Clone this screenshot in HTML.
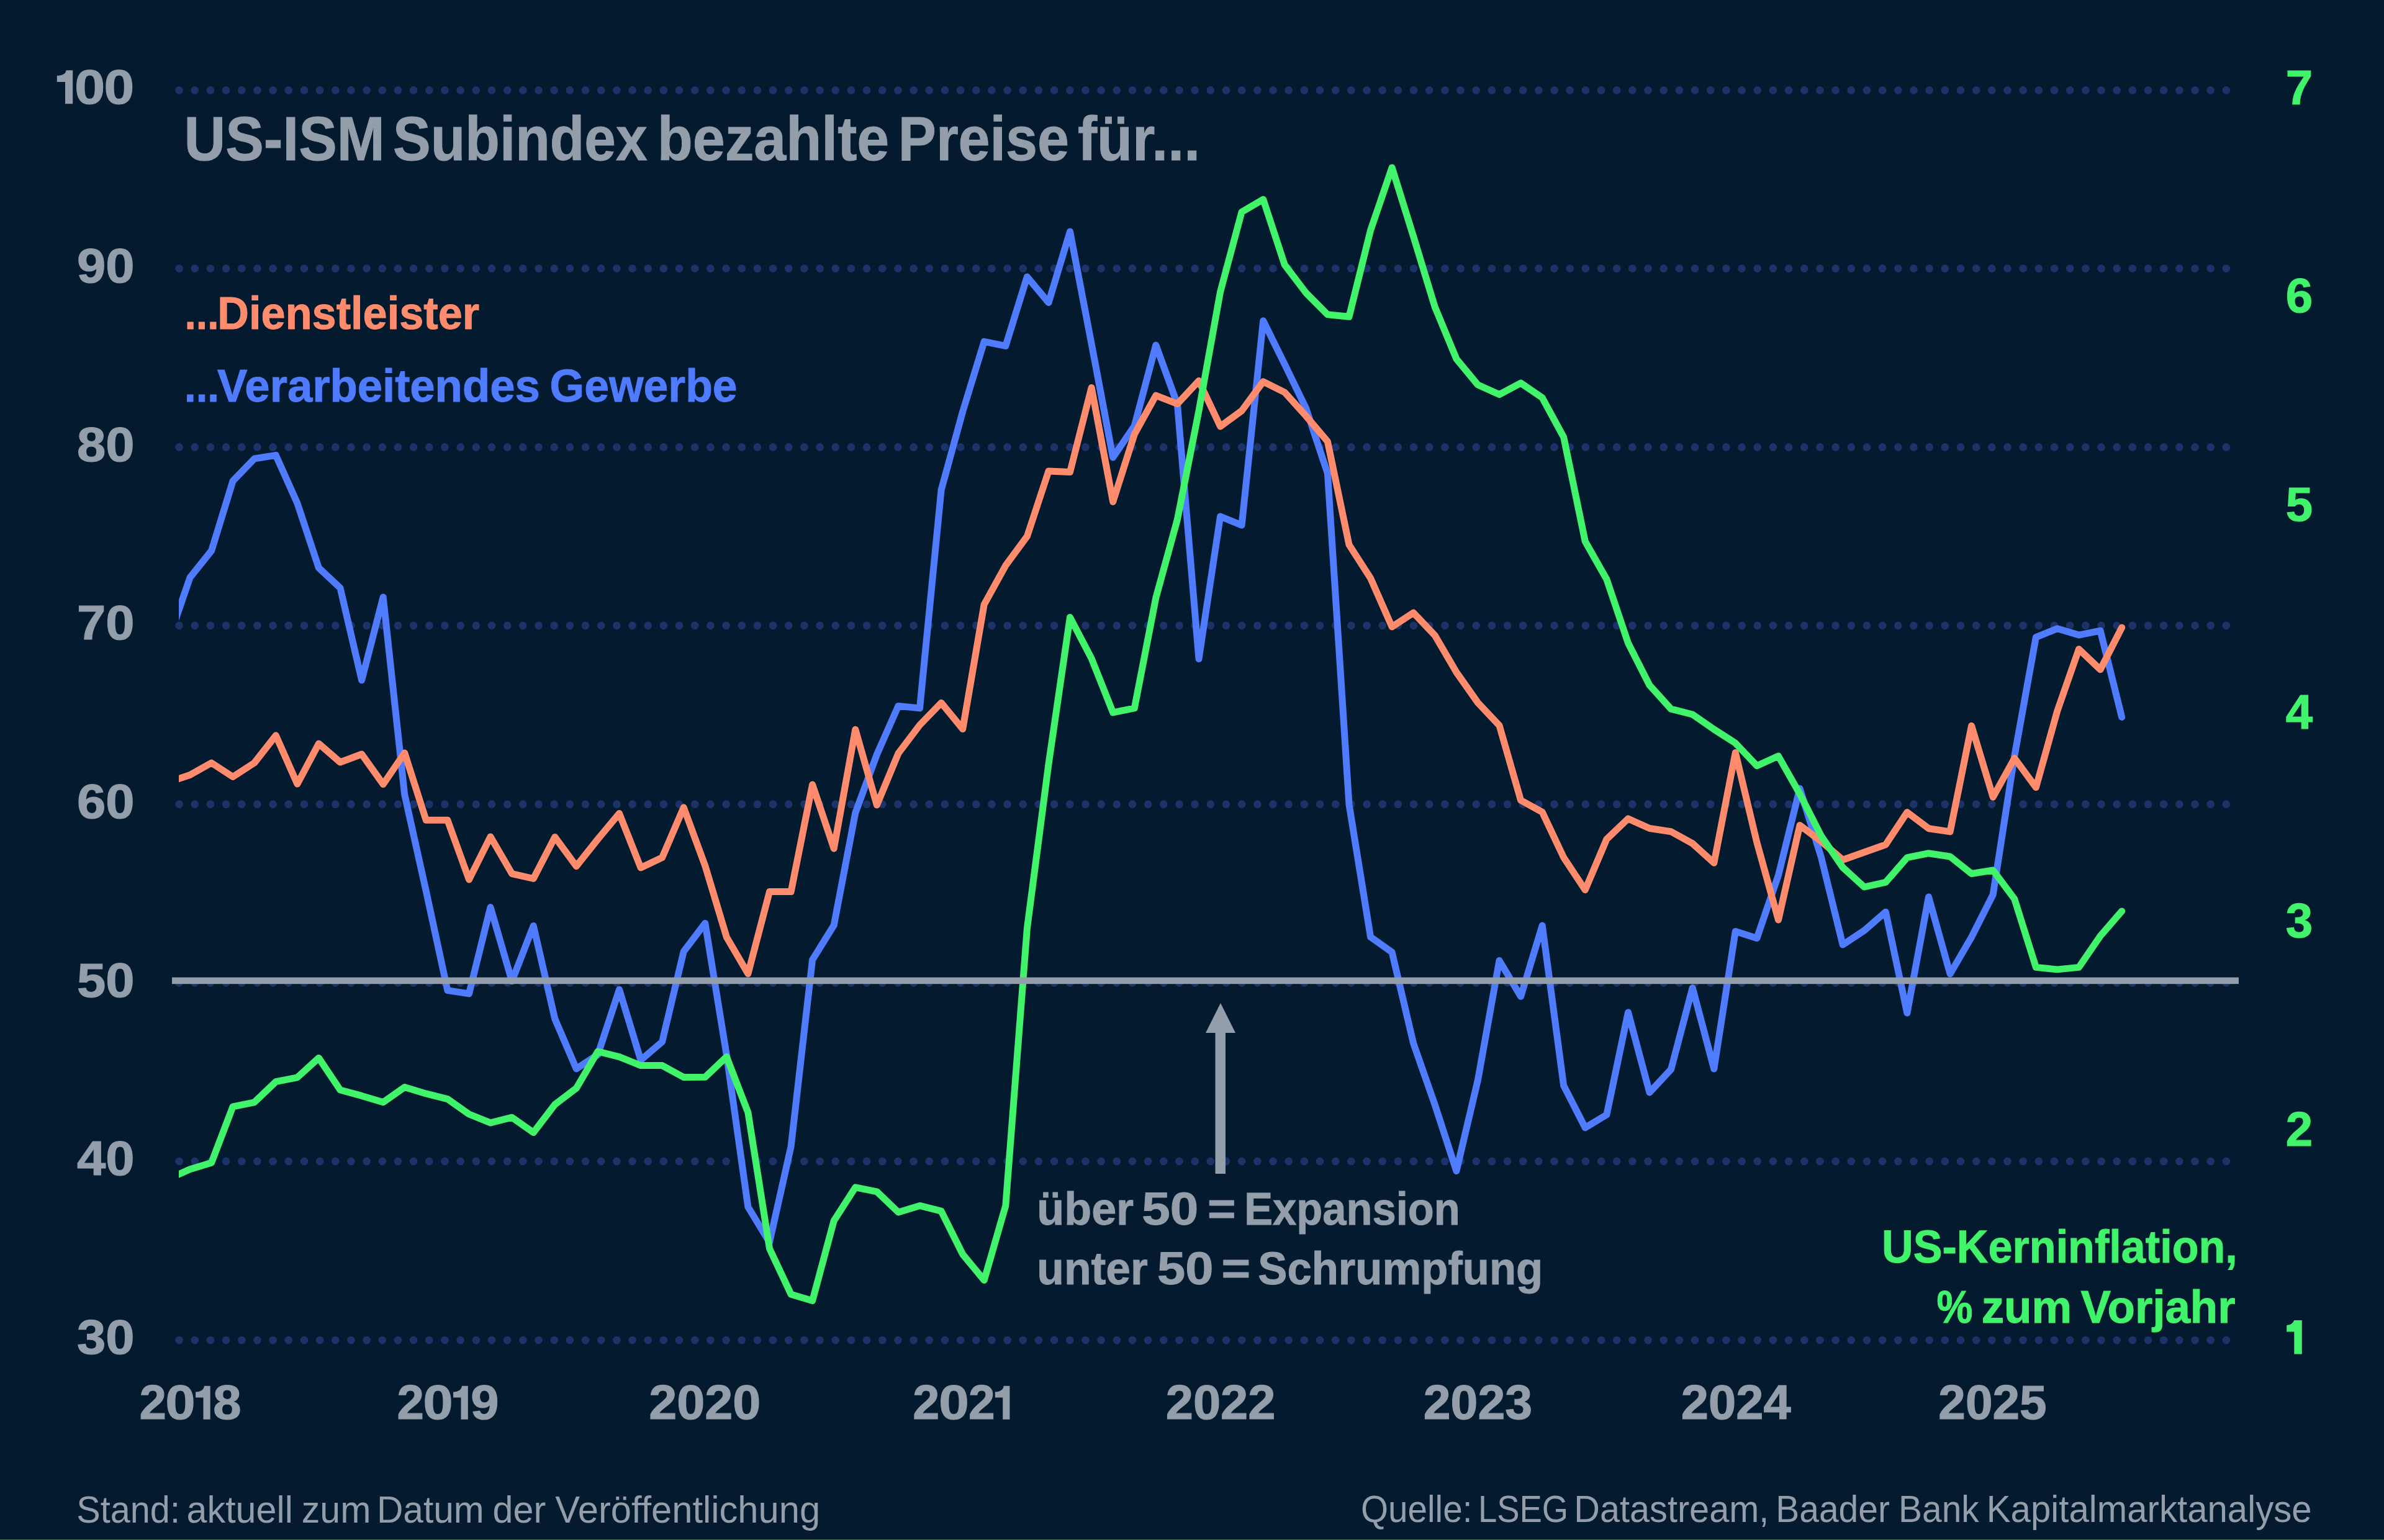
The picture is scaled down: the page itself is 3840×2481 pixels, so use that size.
<!DOCTYPE html>
<html><head><meta charset="utf-8">
<style>
html,body{margin:0;padding:0;background:#031a2f;}
body{width:3840px;height:2481px;overflow:hidden;}
svg{display:block;}
text{font-family:"Liberation Sans",sans-serif;}
.b{font-weight:bold;}
</style></head>
<body>
<svg width="3840" height="2481" viewBox="0 0 3840 2481">
<rect x="0" y="0" width="3840" height="2481" fill="#031a2f"/>
<g id="grid" stroke="#1b3369" stroke-width="12.7" stroke-linecap="round" stroke-dasharray="0 25.17" fill="none">
<line x1="288.6" y1="145.4" x2="3590" y2="145.4"/>
<line x1="288.6" y1="432.6" x2="3590" y2="432.6"/>
<line x1="288.6" y1="720.4" x2="3590" y2="720.4"/>
<line x1="288.6" y1="1007.8" x2="3590" y2="1007.8"/>
<line x1="288.6" y1="1295.7" x2="3590" y2="1295.7"/>
<line x1="288.6" y1="1583.3" x2="3590" y2="1583.3"/>
<line x1="288.6" y1="1870.9" x2="3590" y2="1870.9"/>
<line x1="288.6" y1="2159.1" x2="3590" y2="2159.1"/>
</g>
<defs><clipPath id="clipc"><rect x="288" y="0" width="3400" height="2481"/></clipPath></defs>
<!--SERIES-->
<g id="series" clip-path="url(#clipc)" fill="none" stroke-width="11" stroke-linejoin="round" stroke-linecap="round">
<polyline stroke="#4f7bff" points="271.4,1031.5 306.0,930.5 340.6,887.3 375.1,774.9 409.7,739.0 444.3,733.4 478.9,810.7 513.4,914.8 548.0,947.2 582.6,1095.8 617.2,962.0 651.7,1280.0 686.3,1435.5 720.9,1595.6 755.5,1600.9 790.0,1461.6 824.6,1580.7 859.2,1491.5 893.8,1641.5 928.3,1721.9 962.9,1699.2 997.5,1594.2 1032.1,1707.9 1066.6,1678.3 1101.2,1533.0 1135.8,1487.4 1170.3,1699.4 1204.9,1944.5 1239.5,2001.3 1274.1,1847.0 1308.6,1546.3 1343.2,1490.6 1377.8,1309.5 1412.4,1215.5 1446.9,1137.4 1481.5,1140.9 1516.1,789.3 1550.7,663.0 1585.2,550.3 1619.8,557.3 1654.4,445.9 1689.0,487.6 1723.5,373.0 1758.1,553.8 1792.7,737.0 1827.3,686.0 1861.8,556.0 1896.4,651.0 1931.0,1061.5 1965.6,832.0 2000.1,846.1 2034.7,516.8 2069.3,586.9 2103.8,658.2 2138.4,762.7 2173.0,1296.0 2207.6,1509.5 2242.1,1534.0 2276.7,1681.0 2311.3,1780.0 2345.9,1886.5 2380.4,1740.2 2415.0,1547.5 2449.6,1605.3 2484.2,1491.0 2518.7,1748.9 2553.3,1816.8 2587.9,1795.9 2622.5,1631.0 2657.0,1760.0 2691.6,1722.8 2726.2,1591.5 2760.8,1722.0 2795.3,1500.5 2829.9,1511.4 2864.5,1410.0 2899.0,1270.3 2933.6,1381.7 2968.2,1522.0 3002.8,1499.2 3037.3,1469.2 3071.9,1632.0 3106.5,1445.0 3141.1,1569.0 3175.6,1509.7 3210.2,1441.3 3244.8,1218.1 3279.4,1026.6 3313.9,1012.7 3348.5,1023.1 3383.1,1016.1 3417.7,1155.4"/>
<polyline stroke="#ff8b6d" points="271.4,1260.0 306.0,1248.5 340.6,1229.0 375.1,1251.5 409.7,1229.0 444.3,1184.8 478.9,1263.0 513.4,1198.0 548.0,1228.0 582.6,1215.0 617.2,1263.5 651.7,1213.0 686.3,1321.3 720.9,1321.3 755.5,1417.0 790.0,1348.0 824.6,1407.6 859.2,1415.5 893.8,1348.4 928.3,1395.5 962.9,1352.0 997.5,1310.5 1032.1,1398.0 1066.6,1381.5 1101.2,1300.8 1135.8,1394.8 1170.3,1509.7 1204.9,1568.7 1239.5,1436.6 1274.1,1436.6 1308.6,1264.0 1343.2,1367.0 1377.8,1175.3 1412.4,1297.0 1446.9,1213.8 1481.5,1168.0 1516.1,1132.2 1550.7,1174.5 1585.2,973.8 1619.8,911.1 1654.4,864.1 1689.0,759.0 1723.5,760.5 1758.1,624.5 1792.7,808.4 1827.3,699.5 1861.8,637.2 1896.4,650.7 1931.0,613.5 1965.6,687.0 2000.1,661.7 2034.7,614.8 2069.3,632.1 2103.8,670.4 2138.4,711.3 2173.0,877.6 2207.6,931.5 2242.1,1009.9 2276.7,987.2 2311.3,1023.8 2345.9,1083.0 2380.4,1132.0 2415.0,1168.7 2449.6,1289.3 2484.2,1308.4 2518.7,1381.5 2553.3,1433.7 2587.9,1352.0 2622.5,1318.9 2657.0,1334.5 2691.6,1339.7 2726.2,1358.9 2760.8,1390.3 2795.3,1212.5 2829.9,1357.3 2864.5,1482.0 2899.0,1329.5 2933.6,1355.6 2968.2,1385.2 3002.8,1373.0 3037.3,1360.8 3071.9,1308.6 3106.5,1334.7 3141.1,1339.9 3175.6,1169.3 3210.2,1284.2 3244.8,1221.6 3279.4,1268.6 3313.9,1145.0 3348.5,1045.7 3383.1,1078.8 3417.7,1010.9"/>
<polyline stroke="#40f36b" points="271.4,1899.3 306.0,1883.7 340.6,1873.3 375.1,1782.8 409.7,1775.8 444.3,1742.7 478.9,1735.8 513.4,1704.4 548.0,1756.0 582.6,1765.4 617.2,1775.8 651.7,1751.4 686.3,1761.9 720.9,1770.6 755.5,1795.0 790.0,1808.9 824.6,1800.2 859.2,1824.6 893.8,1779.3 928.3,1753.2 962.9,1694.0 997.5,1702.7 1032.1,1716.6 1066.6,1716.6 1101.2,1735.5 1135.8,1735.3 1170.3,1702.5 1204.9,1792.3 1239.5,2011.5 1274.1,2085.2 1308.6,2095.6 1343.2,1966.8 1377.8,1912.9 1412.4,1919.8 1446.9,1952.9 1481.5,1942.4 1516.1,1951.2 1550.7,2020.8 1585.2,2062.6 1619.8,1942.4 1654.4,1495.8 1689.0,1231.0 1723.5,994.5 1758.1,1060.8 1792.7,1147.9 1827.3,1140.9 1861.8,963.3 1896.4,837.0 1931.0,662.0 1965.6,470.2 2000.1,341.4 2034.7,321.2 2069.3,426.7 2103.8,472.0 2138.4,506.8 2173.0,510.3 2207.6,371.0 2242.1,270.0 2276.7,381.0 2311.3,494.6 2345.9,578.2 2380.4,620.0 2415.0,635.6 2449.6,617.1 2484.2,640.8 2518.7,704.3 2553.3,872.3 2587.9,933.3 2622.5,1036.0 2657.0,1103.9 2691.6,1142.2 2726.2,1151.0 2760.8,1175.0 2795.3,1197.2 2829.9,1233.7 2864.5,1218.1 2899.0,1279.0 2933.6,1346.9 2968.2,1397.4 3002.8,1429.0 3037.3,1421.3 3071.9,1381.7 3106.5,1374.7 3141.1,1380.0 3175.6,1407.5 3210.2,1402.0 3244.8,1448.3 3279.4,1558.4 3313.9,1561.9 3348.5,1558.4 3383.1,1507.9 3417.7,1467.9"/>
</g>
<!--/SERIES-->
<rect x="277" y="1574.6" width="3329" height="10.6" fill="#939eaa"/>
<polygon points="1966,1616 1990,1664 1974,1664 1974,1891 1957.5,1891 1957.5,1664 1942,1664" fill="#939eaa"/>
<g class="b" font-weight="bold" fill="#939eaa" stroke="#939eaa" stroke-width="1.2" font-size="78" text-anchor="end">
<text x="216.6" y="455" textLength="92.6" lengthAdjust="spacingAndGlyphs">90</text>
<text x="216.6" y="742.7" textLength="92.6" lengthAdjust="spacingAndGlyphs">80</text>
<text x="216.6" y="1030.4" textLength="92.6" lengthAdjust="spacingAndGlyphs">70</text>
<text x="216.6" y="1318.1" textLength="92.6" lengthAdjust="spacingAndGlyphs">60</text>
<text x="216.6" y="1605.7" textLength="92.6" lengthAdjust="spacingAndGlyphs">50</text>
<text x="216.6" y="1893.4" textLength="92.6" lengthAdjust="spacingAndGlyphs">40</text>
<text x="216.6" y="2181.2" textLength="92.6" lengthAdjust="spacingAndGlyphs">30</text>
</g>
<g font-weight="bold" fill="#40f36b" stroke="#40f36b" stroke-width="1.2" font-size="78" text-anchor="middle">
<text x="3703.5" y="167.6">7</text>
<text x="3703.5" y="503.2">6</text>
<text x="3703.5" y="838.8">5</text>
<text x="3703.5" y="1174.4">4</text>
<text x="3703.5" y="1510">3</text>
<text x="3703.5" y="1845.6">2</text>
</g>
<path id="one" fill="#40f36b" d="M3695.3,2127 L3707.8,2127 L3707.8,2181.5 L3695.3,2181.5 L3695.3,2145.6 L3683.2,2145.6 L3683.2,2135 Q3692.5,2134.5 3695.3,2127 Z"/>
<g font-weight="bold" fill="#40f36b" stroke="#40f36b" stroke-width="1.2" font-size="78" text-anchor="middle">
</g>
<g font-weight="bold" fill="#939eaa" stroke="#939eaa" stroke-width="1.2" font-size="78" text-anchor="middle">
<text x="1135.2" y="2286.3" textLength="180.1" lengthAdjust="spacingAndGlyphs">2020</text>
<text x="1966.1" y="2286.3" textLength="176.8" lengthAdjust="spacingAndGlyphs">2022</text>
<text x="2380.4" y="2286.3" textLength="175.4" lengthAdjust="spacingAndGlyphs">2023</text>
<text x="2796.2" y="2286.3" textLength="177.0" lengthAdjust="spacingAndGlyphs">2024</text>
<text x="3209.5" y="2286.3" textLength="174.4" lengthAdjust="spacingAndGlyphs">2025</text>
</g>
<!--DIGITS-->
<text x="224.49" y="2286.3" font-size="78" font-weight="bold" fill="#939eaa" stroke="#939eaa" stroke-width="1.2" textLength="43.43" lengthAdjust="spacingAndGlyphs">2</text>
<text x="266.48" y="2286.3" font-size="78" font-weight="bold" fill="#939eaa" stroke="#939eaa" stroke-width="1.2" textLength="48.06" lengthAdjust="spacingAndGlyphs">0</text>
<path fill="#939eaa" d="M329.0,2232.8 L338.7,2232.8 L338.7,2286.7 L327.5,2286.7 L327.5,2251.4 L315.1,2251.4 L315.1,2242.5 Q328.0,2242.0 329.0,2232.8 Z"/>
<text x="343.31" y="2286.3" font-size="78" font-weight="bold" fill="#939eaa" stroke="#939eaa" stroke-width="1.2" textLength="45.40" lengthAdjust="spacingAndGlyphs">8</text>
<text x="639.49" y="2286.3" font-size="78" font-weight="bold" fill="#939eaa" stroke="#939eaa" stroke-width="1.2" textLength="43.43" lengthAdjust="spacingAndGlyphs">2</text>
<text x="681.48" y="2286.3" font-size="78" font-weight="bold" fill="#939eaa" stroke="#939eaa" stroke-width="1.2" textLength="48.06" lengthAdjust="spacingAndGlyphs">0</text>
<path fill="#939eaa" d="M744.0,2232.8 L753.8,2232.8 L753.8,2286.7 L742.5,2286.7 L742.5,2251.4 L730.1,2251.4 L730.1,2242.5 Q743.0,2242.0 744.0,2232.8 Z"/>
<text x="758.17" y="2286.3" font-size="78" font-weight="bold" fill="#939eaa" stroke="#939eaa" stroke-width="1.2" textLength="45.35" lengthAdjust="spacingAndGlyphs">9</text>
<text x="1470.32" y="2286.3" font-size="78" font-weight="bold" fill="#939eaa" stroke="#939eaa" stroke-width="1.2" textLength="42.97" lengthAdjust="spacingAndGlyphs">2</text>
<text x="1512.25" y="2286.3" font-size="78" font-weight="bold" fill="#939eaa" stroke="#939eaa" stroke-width="1.2" textLength="48.53" lengthAdjust="spacingAndGlyphs">0</text>
<text x="1559.94" y="2286.3" font-size="78" font-weight="bold" fill="#939eaa" stroke="#939eaa" stroke-width="1.2" textLength="42.63" lengthAdjust="spacingAndGlyphs">2</text>
<path fill="#939eaa" d="M1616.7,2232.8 L1626.4,2232.8 L1626.4,2286.7 L1615.2,2286.7 L1615.2,2251.4 L1602.8,2251.4 L1602.8,2242.5 Q1615.7,2242.0 1616.7,2232.8 Z"/>
<path fill="#939eaa" d="M106.5,113.2 L117.2,113.2 L117.2,167.2 L105.0,167.2 L105.0,132.1 L91.8,132.1 L91.8,122.0 Q105.5,121.5 106.5,113.2 Z"/>
<text x="120.22" y="167.3" font-size="78" font-weight="bold" fill="#939eaa" stroke="#939eaa" stroke-width="1.2" textLength="48.88" lengthAdjust="spacingAndGlyphs">0</text>
<text x="167.44" y="167.3" font-size="78" font-weight="bold" fill="#939eaa" stroke="#939eaa" stroke-width="1.2" textLength="48.65" lengthAdjust="spacingAndGlyphs">0</text>
<!--/DIGITS-->
<!--TEXT-->
<text x="296.5" y="257.9" font-size="100" font-weight="bold" fill="#939eaa" stroke="#939eaa" stroke-width="1" textLength="323.1" lengthAdjust="spacingAndGlyphs">US-ISM</text>
<text x="633.0" y="257.9" font-size="100" font-weight="bold" fill="#939eaa" stroke="#939eaa" stroke-width="1" textLength="409.6" lengthAdjust="spacingAndGlyphs">Subindex</text>
<text x="1058.7" y="257.9" font-size="100" font-weight="bold" fill="#939eaa" stroke="#939eaa" stroke-width="1" textLength="373.6" lengthAdjust="spacingAndGlyphs">bezahlte</text>
<text x="1446.8" y="257.9" font-size="100" font-weight="bold" fill="#939eaa" stroke="#939eaa" stroke-width="1" textLength="275.2" lengthAdjust="spacingAndGlyphs">Preise</text>
<text x="1735.9" y="257.9" font-size="100" font-weight="bold" fill="#939eaa" stroke="#939eaa" stroke-width="1" textLength="197.3" lengthAdjust="spacingAndGlyphs">für...</text>
<text x="297.6" y="529.5" font-size="75" font-weight="bold" fill="#ff8b6d" stroke="#ff8b6d" stroke-width="1" textLength="54.8" lengthAdjust="spacingAndGlyphs">...</text>
<text x="350.3" y="529.5" font-size="75" font-weight="bold" fill="#ff8b6d" stroke="#ff8b6d" stroke-width="1" textLength="421.8" lengthAdjust="spacingAndGlyphs">Dienstleister</text>
<text x="297.0" y="647.0" font-size="75" font-weight="bold" fill="#4f7bff" stroke="#4f7bff" stroke-width="1" textLength="56.0" lengthAdjust="spacingAndGlyphs">...</text>
<text x="350.0" y="647.0" font-size="75" font-weight="bold" fill="#4f7bff" stroke="#4f7bff" stroke-width="1" textLength="519.8" lengthAdjust="spacingAndGlyphs">Verarbeitendes</text>
<text x="885.6" y="647.0" font-size="75" font-weight="bold" fill="#4f7bff" stroke="#4f7bff" stroke-width="1" textLength="302.0" lengthAdjust="spacingAndGlyphs">Gewerbe</text>
<text x="1670.3" y="1973.0" font-size="75" font-weight="bold" fill="#939eaa" stroke="#939eaa" stroke-width="1" textLength="155.8" lengthAdjust="spacingAndGlyphs">über</text>
<text x="1839.3" y="1973.0" font-size="75" font-weight="bold" fill="#939eaa" stroke="#939eaa" stroke-width="1" textLength="91.1" lengthAdjust="spacingAndGlyphs">50</text>
<text x="1945.1" y="1973.0" font-size="75" font-weight="bold" fill="#939eaa" stroke="#939eaa" stroke-width="1" textLength="45.5" lengthAdjust="spacingAndGlyphs">=</text>
<text x="2004.2" y="1973.0" font-size="75" font-weight="bold" fill="#939eaa" stroke="#939eaa" stroke-width="1" textLength="347.5" lengthAdjust="spacingAndGlyphs">Expansion</text>
<text x="1670.3" y="2069.0" font-size="75" font-weight="bold" fill="#939eaa" stroke="#939eaa" stroke-width="1" textLength="178.6" lengthAdjust="spacingAndGlyphs">unter</text>
<text x="1863.9" y="2069.0" font-size="75" font-weight="bold" fill="#939eaa" stroke="#939eaa" stroke-width="1" textLength="90.5" lengthAdjust="spacingAndGlyphs">50</text>
<text x="1967.6" y="2069.0" font-size="75" font-weight="bold" fill="#939eaa" stroke="#939eaa" stroke-width="1" textLength="46.7" lengthAdjust="spacingAndGlyphs">=</text>
<text x="2026.3" y="2069.0" font-size="75" font-weight="bold" fill="#939eaa" stroke="#939eaa" stroke-width="1" textLength="458.9" lengthAdjust="spacingAndGlyphs">Schrumpfung</text>
<text x="3031.1" y="2034.1" font-size="75" font-weight="bold" fill="#40f36b" stroke="#40f36b" stroke-width="1" textLength="572.7" lengthAdjust="spacingAndGlyphs">US-Kerninflation,</text>
<text x="3119.5" y="2131.0" font-size="75" font-weight="bold" fill="#40f36b" stroke="#40f36b" stroke-width="1" textLength="58.0" lengthAdjust="spacingAndGlyphs">%</text>
<text x="3191.7" y="2131.0" font-size="75" font-weight="bold" fill="#40f36b" stroke="#40f36b" stroke-width="1" textLength="145.4" lengthAdjust="spacingAndGlyphs">zum</text>
<text x="3351.4" y="2131.0" font-size="75" font-weight="bold" fill="#40f36b" stroke="#40f36b" stroke-width="1" textLength="249.2" lengthAdjust="spacingAndGlyphs">Vorjahr</text>
<text x="123.3" y="2452.6" font-size="61" font-weight="normal" fill="#939eaa" textLength="166.6" lengthAdjust="spacingAndGlyphs">Stand:</text>
<text x="300.6" y="2452.6" font-size="61" font-weight="normal" fill="#939eaa" textLength="171.2" lengthAdjust="spacingAndGlyphs">aktuell</text>
<text x="485.7" y="2452.6" font-size="61" font-weight="normal" fill="#939eaa" textLength="111.7" lengthAdjust="spacingAndGlyphs">zum</text>
<text x="606.9" y="2452.6" font-size="61" font-weight="normal" fill="#939eaa" textLength="172.8" lengthAdjust="spacingAndGlyphs">Datum</text>
<text x="793.6" y="2452.6" font-size="61" font-weight="normal" fill="#939eaa" textLength="85.6" lengthAdjust="spacingAndGlyphs">der</text>
<text x="894.2" y="2452.6" font-size="61" font-weight="normal" fill="#939eaa" textLength="426.9" lengthAdjust="spacingAndGlyphs">Veröffentlichung</text>
<text x="2191.9" y="2451.7" font-size="61" font-weight="normal" fill="#939eaa" textLength="179.5" lengthAdjust="spacingAndGlyphs">Quelle:</text>
<text x="2381.0" y="2451.7" font-size="61" font-weight="normal" fill="#939eaa" textLength="145.2" lengthAdjust="spacingAndGlyphs">LSEG</text>
<text x="2535.3" y="2451.7" font-size="61" font-weight="normal" fill="#939eaa" textLength="314.0" lengthAdjust="spacingAndGlyphs">Datastream,</text>
<text x="2860.2" y="2451.7" font-size="61" font-weight="normal" fill="#939eaa" textLength="183.8" lengthAdjust="spacingAndGlyphs">Baader</text>
<text x="3058.1" y="2451.7" font-size="61" font-weight="normal" fill="#939eaa" textLength="129.7" lengthAdjust="spacingAndGlyphs">Bank</text>
<text x="3199.8" y="2451.7" font-size="61" font-weight="normal" fill="#939eaa" textLength="523.9" lengthAdjust="spacingAndGlyphs">Kapitalmarktanalyse</text>
<!--/TEXT-->
<rect id="botline" x="0" y="2480" width="3840" height="1" fill="#4b754b"/>
</svg>
</body></html>
